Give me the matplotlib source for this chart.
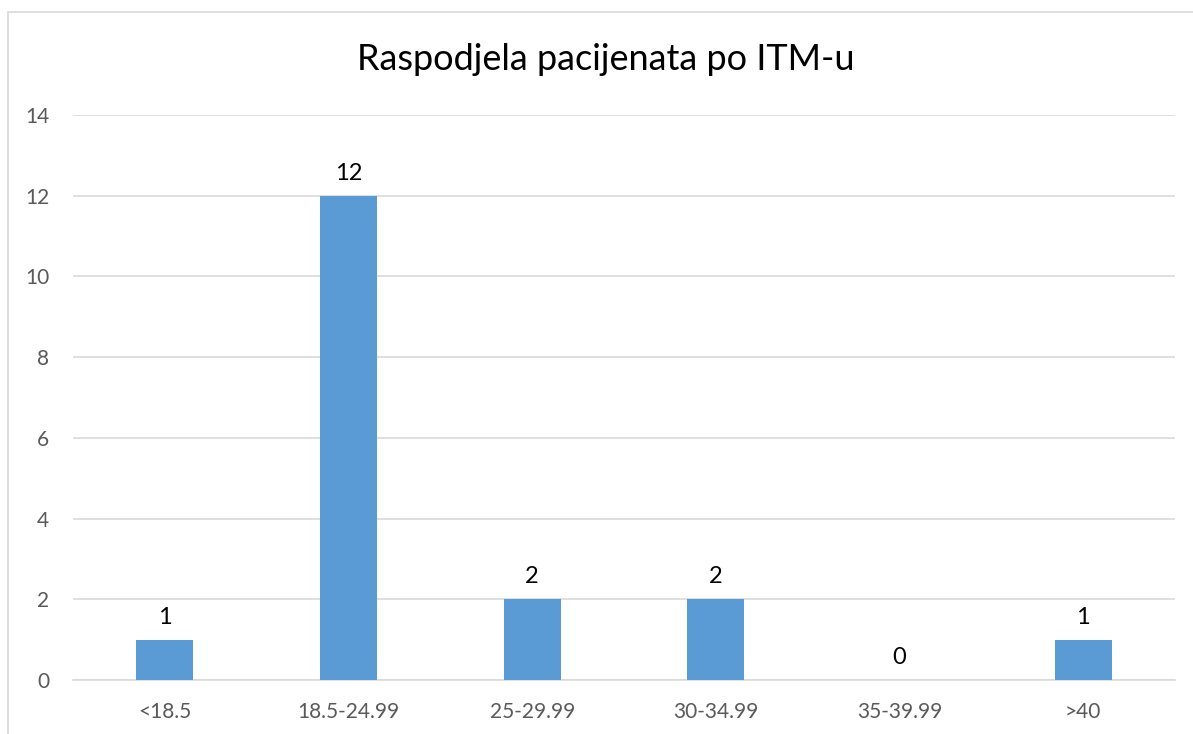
import numpy as np
import matplotlib.pyplot as plt
from matplotlib.patches import Rectangle

categories = ['<18.5', '18.5-24.99', '25-29.99', '30-34.99', '35-39.99', '>40']
counts = [1, 12, 2, 2, 0, 1]
yticks = [0, 2, 4, 6, 8, 10, 12, 14]

plt.rcParams['font.family'] = ['Lato', 'DejaVu Sans']

fig = plt.figure(figsize=(11.93, 7.34), dpi=100)
ax = fig.add_axes([73/1193, 1 - 680/734, (1175-73)/1193, (680-115)/734])

x = np.arange(len(categories))
ax.bar(x, counts, width=0.31, color='#5b9bd5', zorder=3)
for xi, v in zip(x, counts):
    ax.text(xi, v + 0.3, str(v), ha='center', va='bottom', fontsize=17, color='black')

ax.set_xlim(-0.5, len(categories) - 0.5)
ax.set_ylim(0, 14)
ax.set_yticks(yticks)
ax.set_xticks(x)
ax.set_xticklabels(categories)
ax.grid(axis='y', color='#d9d9d9', linewidth=1.2, zorder=0)
ax.tick_params(axis='both', length=0, labelsize=15, labelcolor='#595959')
ax.tick_params(axis='x', pad=16)
ax.tick_params(axis='y', pad=17)
for s in ['top', 'right', 'left']:
    ax.spines[s].set_visible(False)
ax.spines['bottom'].set_color('#d9d9d9')
ax.spines['bottom'].set_linewidth(1.2)

fig.text(606/1193, 1 - 60/734, 'Raspodjela pacijenata po ITM-u', ha='center', va='center',
         fontsize=26, color='black')

# outer chart border
fig.patches.append(Rectangle((8/1193, -0.1), 1.2, 1 - 12/734 + 0.1, transform=fig.transFigure,
                             fill=False, edgecolor='#d9d9d9', linewidth=1.2))

fig.savefig('out.png', dpi=100)
